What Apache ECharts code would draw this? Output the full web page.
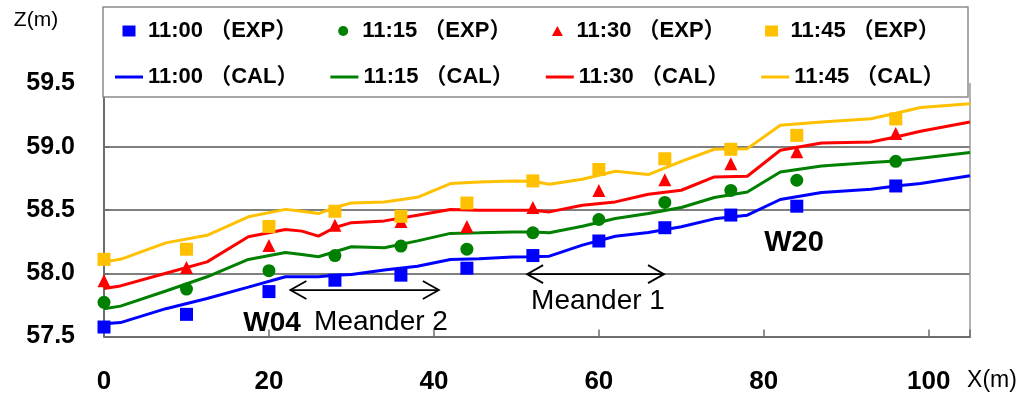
<!DOCTYPE html>
<html>
<head>
<meta charset="utf-8">
<script src="https://cdn.jsdelivr.net/npm/echarts@6/dist/echarts.min.js"></script>
<style>
  html, body { margin: 0; padding: 0; background: #ffffff; }
  #chart { width: 1024px; height: 396px; }
</style>
</head>
<body>
<div id="chart"></div>
<script>
// Water-surface elevation along the channel: measured points (EXP) and computed profiles (CAL)
const expX = [0, 10, 20, 28, 36, 44, 52, 60, 68, 76, 84, 96];
const exp1100 = [57.575, 57.675, 57.855, 57.945, 57.985, 58.04, 58.14, 58.255, 58.36, 58.46, 58.53, 58.69];
const exp1115 = [57.77, 57.875, 58.02, 58.14, 58.215, 58.19, 58.32, 58.425, 58.56, 58.655, 58.735, 58.885];
const exp1130 = [57.94, 58.045, 58.22, 58.38, 58.41, 58.37, 58.52, 58.655, 58.74, 58.865, 58.96, 59.105];
const exp1145 = [58.11, 58.19, 58.37, 58.49, 58.45, 58.555, 58.73, 58.82, 58.905, 58.98, 59.09, 59.22];

const calX = [0, 2, 7.5, 12.5, 17.5, 22, 24, 26, 28, 30, 34, 38, 42, 45.5, 49.5, 52, 54, 58, 62, 66, 70, 74, 78, 82, 87, 93, 96, 99, 105];
const cal1100 = [57.60, 57.61, 57.72, 57.80, 57.89, 57.972, 57.972, 57.972, 57.985, 57.99,
                 58.025, 58.056, 58.109, 58.114, 58.128, 58.13, 58.135, 58.222, 58.293, 58.322,
                 58.367, 58.43, 58.459, 58.583, 58.638, 58.664, 58.69, 58.71, 58.77];
const cal1115 = [57.72, 57.74, 57.86, 57.972, 58.109, 58.164, 58.149, 58.13, 58.17, 58.209,
                 58.201, 58.256, 58.315, 58.32, 58.327, 58.327, 58.32, 58.372, 58.433, 58.472,
                 58.52, 58.599, 58.643, 58.80, 58.848, 58.875, 58.888, 58.91, 58.954];
const cal1130 = [57.88, 57.90, 58.00, 58.09, 58.288, 58.346, 58.333, 58.293, 58.362, 58.40,
                 58.414, 58.459, 58.504, 58.498, 58.498, 58.498, 58.485, 58.538, 58.564, 58.625,
                 58.656, 58.761, 58.767, 58.972, 59.03, 59.037, 59.077, 59.122, 59.196];
const cal1145 = [58.09, 58.11, 58.24, 58.30, 58.446, 58.505, 58.49, 58.472, 58.52, 58.556,
                 58.564, 58.60, 58.709, 58.722, 58.73, 58.727, 58.704, 58.743, 58.806, 58.78,
                 58.885, 58.98, 58.985, 59.17, 59.195, 59.222, 59.265, 59.31, 59.34];

const times = ['11:00', '11:15', '11:30', '11:45'];
const expSets = [exp1100, exp1115, exp1130, exp1145];
const calSets = [cal1100, cal1115, cal1130, cal1145];

// Reach spans of the two meanders: [start X, end X, Z of the arrow]
const meanderSpans = [[22.6, 40.6, 57.867], [51.3, 67.9, 57.993]];

const colors = ['#0000FF', '#008000', '#FF0000', '#FFC000'];
const symbols = ['rect', 'circle', 'triangle', 'rect'];
// legend glyphs drawn inside a 28 x 13 frame (the leading moves fix the frame size)
const frame = 'path://M0 0M28 13';
const expIcons = [
  frame + 'M7.5 1H20.5V12H7.5Z',
  frame + 'M9 6.5A5 5 0 1 1 19 6.5A5 5 0 1 1 9 6.5Z',
  frame + 'M14 1.5L19.5 11.5L8.5 11.5Z',
  frame + 'M7.5 1H20.5V12H7.5Z'
];
const calIcon = frame + 'M0 5H28V8H0Z';

const expName = t => t + ' （EXP）';
const calName = t => t + ' （CAL）';
const pairs = (xs, ys) => xs.map((x, i) => [x, ys[i]]);

const font = "'Liberation Sans', 'Noto Sans CJK JP', sans-serif";
const legendBox = { x: 103, y: 7, width: 865, height: 90 };

const series = [];
times.forEach((t, i) => {
  series.push({
    name: calName(t), type: 'line', data: pairs(calX, calSets[i]),
    symbol: 'none', z: 2,
    lineStyle: { color: colors[i], width: 3 }, itemStyle: { color: colors[i] }
  });
});
times.forEach((t, i) => {
  series.push({
    name: expName(t), type: 'scatter', data: pairs(expX, expSets[i]),
    symbol: symbols[i], symbolSize: 13, z: 3,
    itemStyle: { color: colors[i], opacity: 1 }
  });
});
// double-headed arrows marking the meander reaches
series.push({
  type: 'custom', z: 3, silent: true,
  data: meanderSpans,
  encode: { x: [0, 1], y: 2 },
  renderItem(params, api) {
    const a = api.coord([api.value(0), api.value(2)]);
    const b = api.coord([api.value(1), api.value(2)]);
    const hx = 16, hy = 9;
    const st = { stroke: '#000', lineWidth: 1.8, fill: null };
    return {
      type: 'group',
      children: [
        { type: 'line', shape: { x1: a[0], y1: a[1], x2: b[0], y2: b[1] }, style: st },
        { type: 'polyline', shape: { points: [[a[0] + hx, a[1] - hy], [a[0], a[1]], [a[0] + hx, a[1] + hy]] }, style: st },
        { type: 'polyline', shape: { points: [[b[0] - hx, b[1] - hy], [b[0], b[1]], [b[0] - hx, b[1] + hy]] }, style: st }
      ]
    };
  }
});
// white framed panel behind the legend rows
series.push({
  type: 'custom', z: 8, silent: true, clip: false,
  data: [[0, 57.5]],
  renderItem() {
    return {
      type: 'rect', shape: legendBox,
      style: { fill: '#ffffff', stroke: '#8a8a8a', lineWidth: 1.5 }
    };
  }
});

const legendBase = {
  left: 115, padding: 0, itemGap: 32, itemWidth: 28, itemHeight: 13,
  z: 10, symbolKeepAspect: true,
  selectedMode: false,
  textStyle: { fontFamily: font, fontSize: 22, fontWeight: 'bold', color: '#000', lineHeight: 24 }
};

const axisGray = '#6e6e6e';

const chart = echarts.init(document.getElementById('chart'), null, { renderer: 'canvas' });
chart.setOption({
  animation: false,
  backgroundColor: '#ffffff',
  grid: { left: 104, right: 54, top: 83.5, bottom: 59.5 },
  legend: [
    Object.assign({}, legendBase, { top: 19, data: times.map((t, i) => ({ name: expName(t), icon: expIcons[i] })) }),
    Object.assign({}, legendBase, { top: 65, data: times.map(t => ({ name: calName(t), icon: calIcon })) })
  ],
  xAxis: {
    type: 'value', min: 0, max: 105, interval: 20,
    axisLine: { show: true, lineStyle: { color: axisGray, width: 2 } },
    axisTick: { show: true, inside: true, length: 7, lineStyle: { color: axisGray, width: 1.5 } },
    splitLine: { show: false },
    axisLabel: {
      margin: 32, fontFamily: font, fontSize: 26, fontWeight: 'bold', color: '#000', lineHeight: 26,
      formatter: v => (v % 20 === 0 ? String(v) : '')
    }
  },
  yAxis: [
    {
      type: 'value', min: 57.5, max: 59.5, interval: 0.5,
      axisLine: { show: true, lineStyle: { color: axisGray, width: 2 } },
      axisTick: { show: true, inside: true, length: 5, lineStyle: { color: axisGray, width: 1.5 } },
      splitLine: { show: true, showMaxLine: false, lineStyle: { color: '#7f7f7f', width: 2 } },
      axisLabel: {
        margin: 29, fontFamily: font, fontSize: 25, fontWeight: 'bold', color: '#000',
        formatter: v => v.toFixed(1)
      }
    },
    {
      // right-hand frame of the plot area
      type: 'value', position: 'right', min: 57.5, max: 59.5, interval: 0.5,
      axisLine: { show: true, lineStyle: { color: '#9a9a9a', width: 1.5 } },
      axisTick: { show: false }, axisLabel: { show: false }, splitLine: { show: false }
    }
  ],
  graphic: [
    { type: 'text', x: 36, y: 20,
      style: { text: 'Z(m)', font: "21px 'Liberation Sans', sans-serif", fill: '#000', align: 'center', verticalAlign: 'middle' } },
    { type: 'text', x: 992, y: 381,
      style: { text: 'X(m)', font: "23px 'Liberation Sans', sans-serif", fill: '#000', align: 'center', verticalAlign: 'middle' } },
    { type: 'text', x: 272, y: 323,
      style: { text: 'W04', font: "bold 28px 'Liberation Sans', sans-serif", fill: '#000', align: 'center', verticalAlign: 'middle' } },
    { type: 'text', x: 381, y: 322,
      style: { text: 'Meander 2', font: "28px 'Liberation Sans', sans-serif", fill: '#000', align: 'center', verticalAlign: 'middle' } },
    { type: 'text', x: 598, y: 301,
      style: { text: 'Meander 1', font: "28px 'Liberation Sans', sans-serif", fill: '#000', align: 'center', verticalAlign: 'middle' } },
    { type: 'text', x: 794, y: 243,
      style: { text: 'W20', font: "bold 29px 'Liberation Sans', sans-serif", fill: '#000', align: 'center', verticalAlign: 'middle' } }
  ],
  series: series
});
</script>
</body>
</html>
